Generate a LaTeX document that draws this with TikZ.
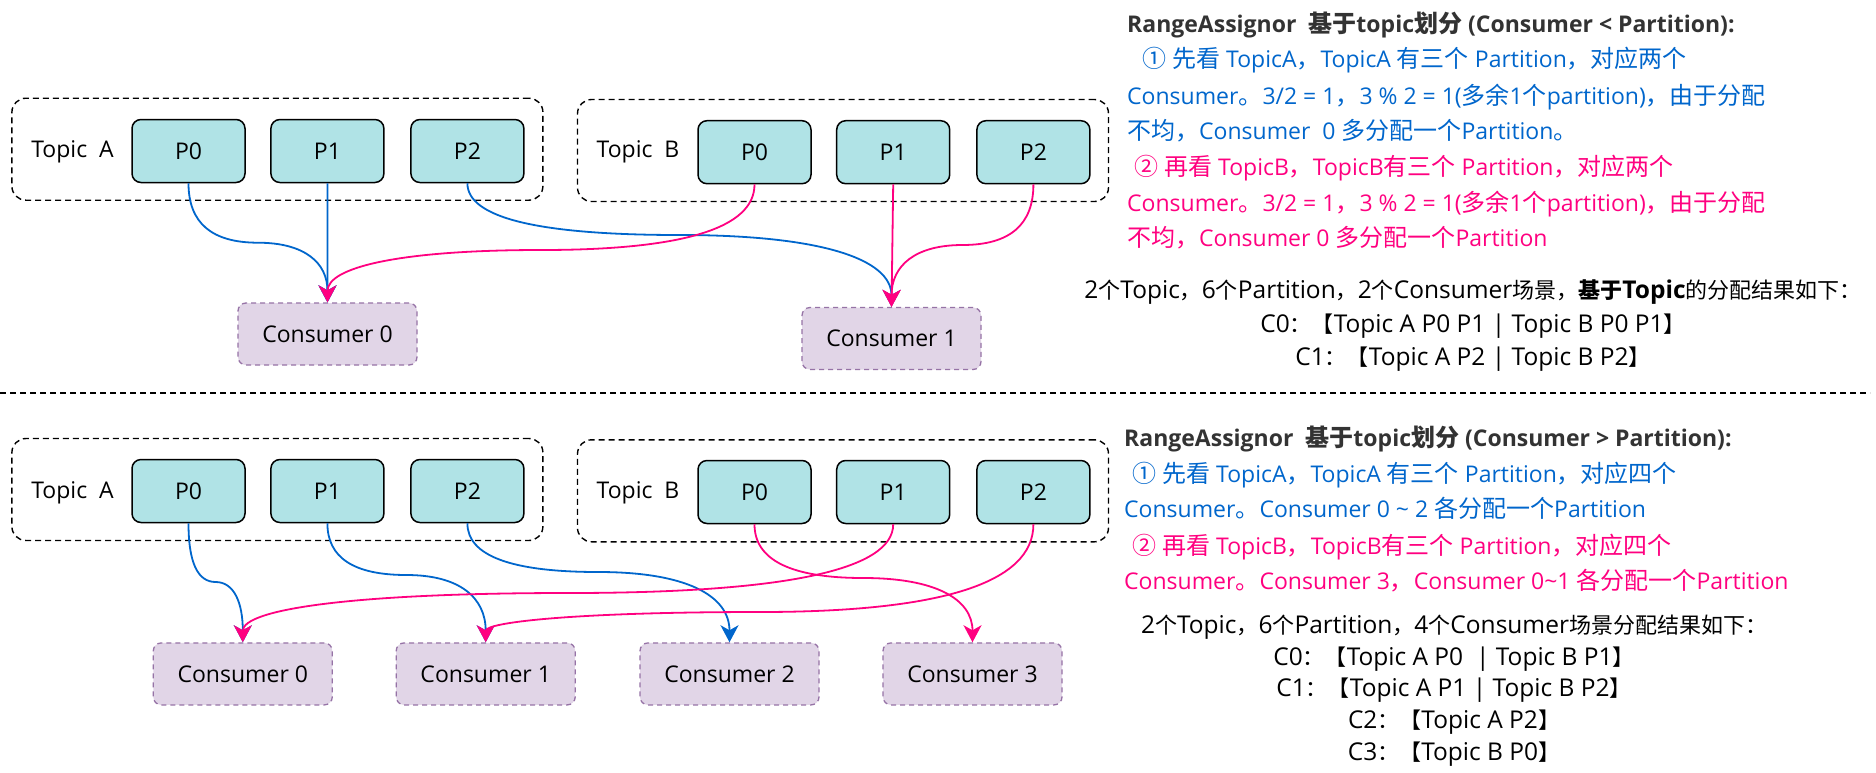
\documentclass[tikz,border=0pt]{standalone}
\usepackage{fontspec}
\setmainfont{Open Sans}
\newfontfamily\cjkfam{Noto Sans CJK SC}
\usetikzlibrary{arrows.meta,calc}
\definecolor{lblue}{HTML}{0066CC}
\definecolor{lpink}{HTML}{FF0080}
\definecolor{pfill}{HTML}{B0E3E6}
\definecolor{cfill}{HTML}{E1D5E7}
\definecolor{cdraw}{HTML}{9673A6}
\definecolor{hdr}{HTML}{333333}
% automatic switch to the CJK font for CJK characters
\def\cjksz{23pt}
\newcommand\cjkon{\begingroup\cjkfam\fontsize{\cjksz}{\cjksz}\selectfont}
\makeatletter
\newXeTeXintercharclass\cjkcls
\def\setcjkrange#1#2{\count@=#1\relax
  \loop\XeTeXcharclass\count@=\cjkcls\relax
  \ifnum\count@<#2\relax\advance\count@ 1\repeat}
\setcjkrange{"2460}{"24FF}
\setcjkrange{"3000}{"303F}
\setcjkrange{"4E00}{"9FFF}
\setcjkrange{"FF00}{"FFEF}
\makeatother
\XeTeXinterchartoks 0 \cjkcls = {\cjkon}
\XeTeXinterchartoks 4095 \cjkcls = {\cjkon}
\XeTeXinterchartoks \cjkcls 0 = {\endgroup}
\XeTeXinterchartoks \cjkcls 4095 = {\endgroup}
\AtBeginDocument{\XeTeXinterchartokenstate=1 }
\newcommand\dgfont{\fontsize{23}{28}\selectfont\def\cjksz{23pt}}
\newcommand\descfont{\fontsize{23}{28}\selectfont\def\cjksz{24pt}}
\newcommand\resfont{\fontsize{24.5}{28}\selectfont\def\cjksz{22pt}}
\tikzset{
  part/.style={draw=black, line width=1.5pt, fill=pfill, rounded corners=9pt,
    minimum width=113pt, minimum height=63pt, inner sep=0pt, font=\dgfont},
  cons/.style={draw=cdraw, line width=1.3pt, dash pattern=on 5pt off 4pt, fill=cfill,
    rounded corners=8pt, minimum width=179pt, minimum height=62pt, inner sep=0pt, font=\dgfont},
  grp/.style={draw=black, line width=1.4pt, dash pattern=on 6pt off 4pt, rounded corners=14pt,
    minimum width=531pt, minimum height=102pt, inner sep=0pt},
  lbl/.style={font=\dgfont, inner sep=0pt},
  bl/.style={draw=lblue, line width=1.8pt, -{Stealth[length=17pt,width=18pt,inset=5pt]}},
  pk/.style={draw=lpink, line width=1.8pt, -{Stealth[length=17pt,width=18pt,inset=5pt]}},
  desc/.style={anchor=base west, inner sep=0pt, font=\descfont},
  res/.style={anchor=base, inner sep=0pt, font=\resfont},
  qc/.style={to path={let \p1=(\tikztostart), \p2=(\tikztotarget) in
    .. controls (\x1,{\y1+2/3*(-#1pt-(\y1))}) and ({(5*\x1+\x2)/6},{-#1pt}) .. ({(\x1+\x2)/2},{-#1pt})
    .. controls ({(\x1+5*\x2)/6},{-#1pt}) and (\x2,{\y2+2/3*(-#1pt-(\y2))}) .. (\tikztotarget)}}
}
\begin{document}
\begin{tikzpicture}[x=1pt,y=-1pt]
\useasboundingbox (0,0) rectangle (1876,772);
\fill[white] (0,0) rectangle (1876,772);

% ---------------- upper scenario ----------------
\node[grp] (ua) at (277.4,149.2) {};
\node[lbl] (ula) at (72.5,152) {Topic\ \ A};
\node[part] (ua0) at (188.5,151) {P0};
\node[part] (ua1) at (327.4,151) {P1};
\node[part] (ua2) at (467.4,151) {P2};
\node[grp] (ub) at (843,150.5) {};
\node[lbl] (ulb) at (638,152) {Topic\ \ B};
\node[part] (ub0) at (754.5,152.2) {P0};
\node[part] (ub1) at (893.2,152.2) {P1};
\node[part] (ub2) at (1033.4,152.2) {P2};
\node[cons] (uc0) at (327.5,334) {Consumer 0};
\node[cons] (uc1) at (891.5,338.5) {Consumer 1};

\draw[bl] (ua0.south) to[qc=242.7] (uc0.north);
\draw[bl] (ua1.south) -- (uc0.north);
\draw[bl] (ua2.south) to[qc=235] (uc1.north);
\draw[pk] (ub0.south) to[qc=250] (uc0.north);
\draw[pk] (ub1.south) -- (uc1.north);
\draw[pk] (ub2.south) to[qc=245] (uc1.north);

\node[desc, text=hdr] (t1) at (1127,32) {\textbf{RangeAssignor\ \ 基于topic划分 (Consumer < Partition):}};
\node[desc, text=lblue] (t2) at (1142,67) {① 先看 TopicA，TopicA 有三个 Partition，对应两个};
\node[desc, text=lblue] (t3) at (1127,104) {Consumer。3/2 = 1，3 \% 2 = 1(多余1个partition)，由于分配};
\node[desc, text=lblue] (t4) at (1127,139) {不均，Consumer\ \ 0 多分配一个Partition。};
\node[desc, text=lpink] (t5) at (1134,175) {② 再看 TopicB，TopicB有三个 Partition，对应两个};
\node[desc, text=lpink] (t6) at (1127,211) {Consumer。3/2 = 1，3 \% 2 = 1(多余1个partition)，由于分配};
\node[desc, text=lpink] (t7) at (1127,246) {不均，Consumer 0 多分配一个Partition};

\node[res] (r1) at (1473,298) {2个Topic，6个Partition，2个Consumer场景，\textbf{基于Topic}的分配结果如下：};
\node[res] (r2) at (1473,332) {C0：【Topic A P0 P1 | Topic B P0 P1】};
\node[res] (r3) at (1473,365) {C1：【Topic A P2 | Topic B P2】};

% divider
\draw[line width=1.4pt, dash pattern=on 6pt off 4pt] (0,393) -- (1870,393);

% ---------------- lower scenario ----------------
\node[grp] (da) at (277.4,489.5) {};
\node[lbl] (dla) at (72.5,493) {Topic\ \ A};
\node[part] (da0) at (188.5,491) {P0};
\node[part] (da1) at (327.4,491) {P1};
\node[part] (da2) at (467.4,491) {P2};
\node[grp] (db) at (843,490.8) {};
\node[lbl] (dlb) at (638,493) {Topic\ \ B};
\node[part] (db0) at (754.5,492) {P0};
\node[part] (db1) at (893.2,492) {P1};
\node[part] (db2) at (1033.4,492) {P2};
\node[cons] (dc0) at (242.8,673.9) {Consumer 0};
\node[cons] (dc1) at (485.7,673.9) {Consumer 1};
\node[cons] (dc2) at (729.5,673.9) {Consumer 2};
\node[cons] (dc3) at (972.5,673.9) {Consumer 3};

\draw[bl] (da0.south) to[qc=582] (dc0.north);
\draw[bl] (da1.south) to[qc=575] (dc1.north);
\draw[bl] (da2.south) to[qc=572] (dc2.north);
\draw[pk] (db0.south) to[qc=578] (dc3.north);
\draw[pk] (db1.south) to[qc=593] (dc0.north);
\draw[pk] (db2.south) to[qc=612] (dc1.north);

\node[desc, text=hdr] (s1) at (1124,446) {\textbf{RangeAssignor\ \ 基于topic划分 (Consumer > Partition):}};
\node[desc, text=lblue] (s2) at (1132,482) {① 先看 TopicA，TopicA 有三个 Partition，对应四个};
\node[desc, text=lblue] (s3) at (1124,517) {Consumer。Consumer 0 \textasciitilde{} 2 各分配一个Partition};
\node[desc, text=lpink] (s4) at (1132,554) {② 再看 TopicB，TopicB有三个 Partition，对应四个};
\node[desc, text=lpink] (s5) at (1124,589) {Consumer。Consumer 3，Consumer 0\textasciitilde{}1 各分配一个Partition};

\node[res] (q1) at (1454,633) {2个Topic，6个Partition，4个Consumer场景分配结果如下：};
\node[res] (q2) at (1454,665) {C0：【Topic A P0\ \ | Topic B P1】};
\node[res] (q3) at (1454,696) {C1：【Topic A P1 | Topic B P2】};
\node[res] (q4) at (1454,728) {C2：【Topic A P2】};
\node[res] (q5) at (1454,760) {C3：【Topic B P0】};
\end{tikzpicture}
\end{document}
